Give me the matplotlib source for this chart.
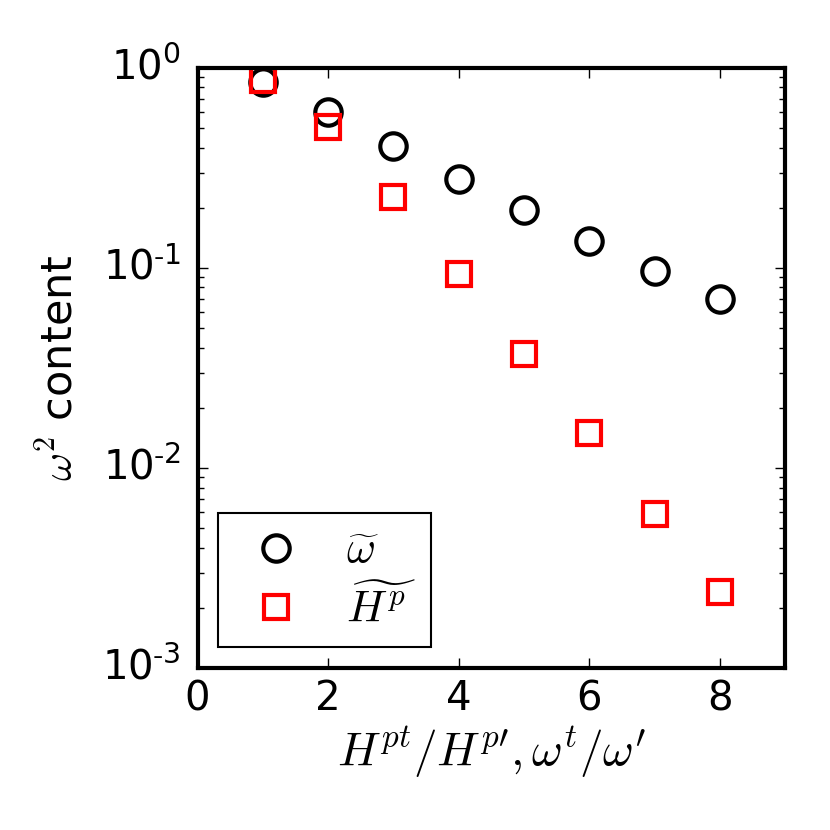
#!/usr/bin/env python3
import math

import matplotlib

matplotlib.use("Agg")
import matplotlib.pyplot as plt
from matplotlib.ticker import FuncFormatter

x_values = [1, 2, 3, 4, 5, 6, 7, 8]
omega_content = [0.85, 0.60, 0.41, 0.28, 0.195, 0.136, 0.097, 0.070]
hp_content = [0.87, 0.51, 0.226, 0.093, 0.037, 0.015, 0.0059, 0.0024]


def log_label(value, _pos):
    exponent = int(round(math.log10(value)))
    if exponent < 0:
        return r"$\mathdefault{10^{\text{-}%d}}$" % (-exponent)
    return r"$\mathdefault{10^{%d}}$" % exponent


def main() -> int:
    plt.style.use("classic")
    plt.rcParams["mathtext.fontset"] = "cm"
    plt.rcParams["font.family"] = "DejaVu Sans"

    fig = plt.figure(figsize=(8.3, 8.3), dpi=100)
    fig.patch.set_facecolor("white")
    ax = fig.add_axes([0.238, 0.195, 0.708, 0.723])

    ax.semilogy(x_values, omega_content, "o", markersize=19, markerfacecolor="none",
                markeredgecolor="black", markeredgewidth=3, label=r"$\widetilde{\omega}$")
    ax.semilogy(x_values, hp_content, "s", markersize=17, markerfacecolor="none",
                markeredgecolor="red", markeredgewidth=3, label=r"$\widetilde{H^p}$")

    ax.set_xlim(0, 9)
    ax.set_ylim(1e-3, 1e0)
    ax.set_xticks([0, 2, 4, 6, 8])
    ax.yaxis.set_major_formatter(FuncFormatter(log_label))
    ax.tick_params(axis="both", which="major", labelsize=29, length=7, width=1)
    ax.tick_params(axis="x", which="major", pad=8)
    ax.tick_params(axis="y", which="major", pad=12)
    ax.tick_params(axis="both", which="minor", length=4, width=1)
    for spine in ax.spines.values():
        spine.set_linewidth(3)

    ax.set_xlabel(r"$H^{pt}/H^{p\prime},\omega^t/\omega^\prime$", fontsize=34, labelpad=4)
    ax.set_ylabel(r"$\omega^2$ content", fontsize=31, labelpad=15)

    legend = ax.legend(loc="lower left", numpoints=1, fontsize=32,
                       bbox_to_anchor=(0.034, 0.035), borderaxespad=0, borderpad=0.36,
                       handlelength=1.9, handletextpad=0.62, labelspacing=0.32,
                       fancybox=False)
    legend.get_frame().set_linewidth(1.5)
    legend.get_frame().set_edgecolor("black")

    fig.savefig("out.png", dpi=100, facecolor="white")
    plt.close(fig)
    return 0


if __name__ == "__main__":
    raise SystemExit(main())
